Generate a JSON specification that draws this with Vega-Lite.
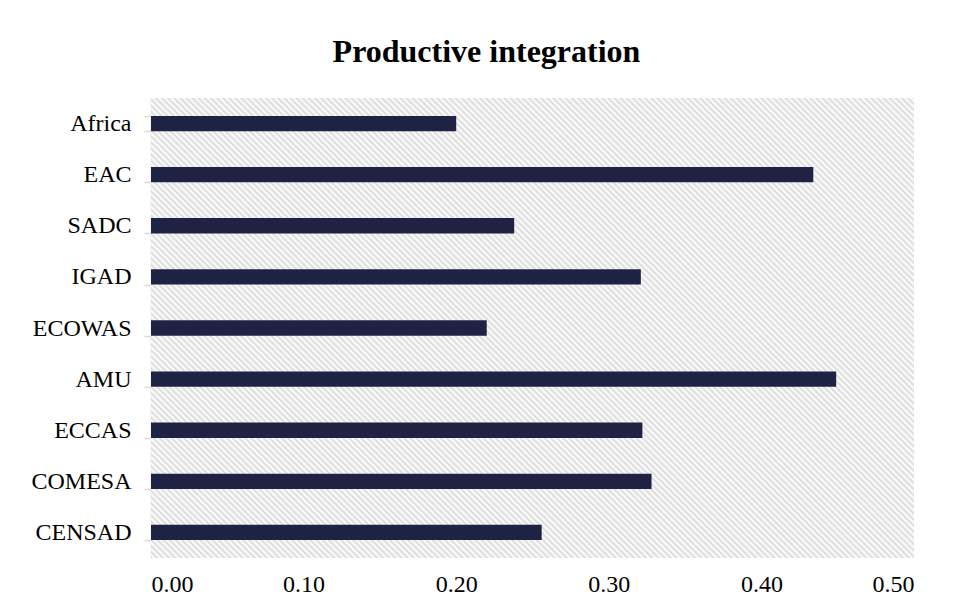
{
  "$schema": "https://vega.github.io/schema/vega-lite/v6.json",
  "width": 763,
  "height": 460,
  "autosize": "none",
  "padding": {"left": 151, "top": 98, "right": 40, "bottom": 52},
  "background": "white",
  "title": {
    "text": "Productive integration",
    "font": "Liberation Serif",
    "fontSize": 32,
    "fontWeight": "bold",
    "color": "#000000",
    "anchor": "middle",
    "frame": "group",
    "dx": -46,
    "baseline": "alphabetic",
    "offset": -8
  },
  "config": {
    "view": {"stroke": null},
    "font": "Liberation Serif"
  },
  "data": {
    "values": [
      {"region": "Africa", "value": 0.200},
      {"region": "EAC", "value": 0.434},
      {"region": "SADC", "value": 0.238},
      {"region": "IGAD", "value": 0.321},
      {"region": "ECOWAS", "value": 0.220},
      {"region": "AMU", "value": 0.449},
      {"region": "ECCAS", "value": 0.322},
      {"region": "COMESA", "value": 0.328},
      {"region": "CENSAD", "value": 0.256}
    ]
  },
  "layer": [
    {
      "data": {"values": [{"lo": 0, "hi": 0.5}]},
      "mark": {
        "type": "rect",
        "fill": {
          "gradient": "linear",
          "x1": 0, "y1": 1, "x2": 1.1756, "y2": 0.2912,
          "stops": [
            {"offset":0,"color":"#dadada"},{"offset":0.0025,"color":"#fff"},{"offset":0.005,"color":"#dadada"},{"offset":0.0075,"color":"#fff"},
            {"offset":0.01,"color":"#dadada"},{"offset":0.0125,"color":"#fff"},{"offset":0.015,"color":"#dadada"},{"offset":0.0175,"color":"#fff"},
            {"offset":0.02,"color":"#dadada"},{"offset":0.0225,"color":"#fff"},{"offset":0.025,"color":"#dadada"},{"offset":0.0275,"color":"#fff"},
            {"offset":0.03,"color":"#dadada"},{"offset":0.0325,"color":"#fff"},{"offset":0.035,"color":"#dadada"},{"offset":0.0375,"color":"#fff"},
            {"offset":0.04,"color":"#dadada"},{"offset":0.0425,"color":"#fff"},{"offset":0.045,"color":"#dadada"},{"offset":0.0475,"color":"#fff"},
            {"offset":0.05,"color":"#dadada"},{"offset":0.0525,"color":"#fff"},{"offset":0.055,"color":"#dadada"},{"offset":0.0575,"color":"#fff"},
            {"offset":0.06,"color":"#dadada"},{"offset":0.0625,"color":"#fff"},{"offset":0.065,"color":"#dadada"},{"offset":0.0675,"color":"#fff"},
            {"offset":0.07,"color":"#dadada"},{"offset":0.0725,"color":"#fff"},{"offset":0.075,"color":"#dadada"},{"offset":0.0775,"color":"#fff"},
            {"offset":0.08,"color":"#dadada"},{"offset":0.0825,"color":"#fff"},{"offset":0.085,"color":"#dadada"},{"offset":0.0875,"color":"#fff"},
            {"offset":0.09,"color":"#dadada"},{"offset":0.0925,"color":"#fff"},{"offset":0.095,"color":"#dadada"},{"offset":0.0975,"color":"#fff"},
            {"offset":0.10,"color":"#dadada"},{"offset":0.1025,"color":"#fff"},{"offset":0.105,"color":"#dadada"},{"offset":0.1075,"color":"#fff"},
            {"offset":0.11,"color":"#dadada"},{"offset":0.1125,"color":"#fff"},{"offset":0.115,"color":"#dadada"},{"offset":0.1175,"color":"#fff"},
            {"offset":0.12,"color":"#dadada"},{"offset":0.1225,"color":"#fff"},{"offset":0.125,"color":"#dadada"},{"offset":0.1275,"color":"#fff"},
            {"offset":0.13,"color":"#dadada"},{"offset":0.1325,"color":"#fff"},{"offset":0.135,"color":"#dadada"},{"offset":0.1375,"color":"#fff"},
            {"offset":0.14,"color":"#dadada"},{"offset":0.1425,"color":"#fff"},{"offset":0.145,"color":"#dadada"},{"offset":0.1475,"color":"#fff"},
            {"offset":0.15,"color":"#dadada"},{"offset":0.1525,"color":"#fff"},{"offset":0.155,"color":"#dadada"},{"offset":0.1575,"color":"#fff"},
            {"offset":0.16,"color":"#dadada"},{"offset":0.1625,"color":"#fff"},{"offset":0.165,"color":"#dadada"},{"offset":0.1675,"color":"#fff"},
            {"offset":0.17,"color":"#dadada"},{"offset":0.1725,"color":"#fff"},{"offset":0.175,"color":"#dadada"},{"offset":0.1775,"color":"#fff"},
            {"offset":0.18,"color":"#dadada"},{"offset":0.1825,"color":"#fff"},{"offset":0.185,"color":"#dadada"},{"offset":0.1875,"color":"#fff"},
            {"offset":0.19,"color":"#dadada"},{"offset":0.1925,"color":"#fff"},{"offset":0.195,"color":"#dadada"},{"offset":0.1975,"color":"#fff"},
            {"offset":0.20,"color":"#dadada"},{"offset":0.2025,"color":"#fff"},{"offset":0.205,"color":"#dadada"},{"offset":0.2075,"color":"#fff"},
            {"offset":0.21,"color":"#dadada"},{"offset":0.2125,"color":"#fff"},{"offset":0.215,"color":"#dadada"},{"offset":0.2175,"color":"#fff"},
            {"offset":0.22,"color":"#dadada"},{"offset":0.2225,"color":"#fff"},{"offset":0.225,"color":"#dadada"},{"offset":0.2275,"color":"#fff"},
            {"offset":0.23,"color":"#dadada"},{"offset":0.2325,"color":"#fff"},{"offset":0.235,"color":"#dadada"},{"offset":0.2375,"color":"#fff"},
            {"offset":0.24,"color":"#dadada"},{"offset":0.2425,"color":"#fff"},{"offset":0.245,"color":"#dadada"},{"offset":0.2475,"color":"#fff"},
            {"offset":0.25,"color":"#dadada"},{"offset":0.2525,"color":"#fff"},{"offset":0.255,"color":"#dadada"},{"offset":0.2575,"color":"#fff"},
            {"offset":0.26,"color":"#dadada"},{"offset":0.2625,"color":"#fff"},{"offset":0.265,"color":"#dadada"},{"offset":0.2675,"color":"#fff"},
            {"offset":0.27,"color":"#dadada"},{"offset":0.2725,"color":"#fff"},{"offset":0.275,"color":"#dadada"},{"offset":0.2775,"color":"#fff"},
            {"offset":0.28,"color":"#dadada"},{"offset":0.2825,"color":"#fff"},{"offset":0.285,"color":"#dadada"},{"offset":0.2875,"color":"#fff"},
            {"offset":0.29,"color":"#dadada"},{"offset":0.2925,"color":"#fff"},{"offset":0.295,"color":"#dadada"},{"offset":0.2975,"color":"#fff"},
            {"offset":0.30,"color":"#dadada"},{"offset":0.3025,"color":"#fff"},{"offset":0.305,"color":"#dadada"},{"offset":0.3075,"color":"#fff"},
            {"offset":0.31,"color":"#dadada"},{"offset":0.3125,"color":"#fff"},{"offset":0.315,"color":"#dadada"},{"offset":0.3175,"color":"#fff"},
            {"offset":0.32,"color":"#dadada"},{"offset":0.3225,"color":"#fff"},{"offset":0.325,"color":"#dadada"},{"offset":0.3275,"color":"#fff"},
            {"offset":0.33,"color":"#dadada"},{"offset":0.3325,"color":"#fff"},{"offset":0.335,"color":"#dadada"},{"offset":0.3375,"color":"#fff"},
            {"offset":0.34,"color":"#dadada"},{"offset":0.3425,"color":"#fff"},{"offset":0.345,"color":"#dadada"},{"offset":0.3475,"color":"#fff"},
            {"offset":0.35,"color":"#dadada"},{"offset":0.3525,"color":"#fff"},{"offset":0.355,"color":"#dadada"},{"offset":0.3575,"color":"#fff"},
            {"offset":0.36,"color":"#dadada"},{"offset":0.3625,"color":"#fff"},{"offset":0.365,"color":"#dadada"},{"offset":0.3675,"color":"#fff"},
            {"offset":0.37,"color":"#dadada"},{"offset":0.3725,"color":"#fff"},{"offset":0.375,"color":"#dadada"},{"offset":0.3775,"color":"#fff"},
            {"offset":0.38,"color":"#dadada"},{"offset":0.3825,"color":"#fff"},{"offset":0.385,"color":"#dadada"},{"offset":0.3875,"color":"#fff"},
            {"offset":0.39,"color":"#dadada"},{"offset":0.3925,"color":"#fff"},{"offset":0.395,"color":"#dadada"},{"offset":0.3975,"color":"#fff"},
            {"offset":0.40,"color":"#dadada"},{"offset":0.4025,"color":"#fff"},{"offset":0.405,"color":"#dadada"},{"offset":0.4075,"color":"#fff"},
            {"offset":0.41,"color":"#dadada"},{"offset":0.4125,"color":"#fff"},{"offset":0.415,"color":"#dadada"},{"offset":0.4175,"color":"#fff"},
            {"offset":0.42,"color":"#dadada"},{"offset":0.4225,"color":"#fff"},{"offset":0.425,"color":"#dadada"},{"offset":0.4275,"color":"#fff"},
            {"offset":0.43,"color":"#dadada"},{"offset":0.4325,"color":"#fff"},{"offset":0.435,"color":"#dadada"},{"offset":0.4375,"color":"#fff"},
            {"offset":0.44,"color":"#dadada"},{"offset":0.4425,"color":"#fff"},{"offset":0.445,"color":"#dadada"},{"offset":0.4475,"color":"#fff"},
            {"offset":0.45,"color":"#dadada"},{"offset":0.4525,"color":"#fff"},{"offset":0.455,"color":"#dadada"},{"offset":0.4575,"color":"#fff"},
            {"offset":0.46,"color":"#dadada"},{"offset":0.4625,"color":"#fff"},{"offset":0.465,"color":"#dadada"},{"offset":0.4675,"color":"#fff"},
            {"offset":0.47,"color":"#dadada"},{"offset":0.4725,"color":"#fff"},{"offset":0.475,"color":"#dadada"},{"offset":0.4775,"color":"#fff"},
            {"offset":0.48,"color":"#dadada"},{"offset":0.4825,"color":"#fff"},{"offset":0.485,"color":"#dadada"},{"offset":0.4875,"color":"#fff"},
            {"offset":0.49,"color":"#dadada"},{"offset":0.4925,"color":"#fff"},{"offset":0.495,"color":"#dadada"},{"offset":0.4975,"color":"#fff"},
            {"offset":0.50,"color":"#dadada"},{"offset":0.5025,"color":"#fff"},{"offset":0.505,"color":"#dadada"},{"offset":0.5075,"color":"#fff"},
            {"offset":0.51,"color":"#dadada"},{"offset":0.5125,"color":"#fff"},{"offset":0.515,"color":"#dadada"},{"offset":0.5175,"color":"#fff"},
            {"offset":0.52,"color":"#dadada"},{"offset":0.5225,"color":"#fff"},{"offset":0.525,"color":"#dadada"},{"offset":0.5275,"color":"#fff"},
            {"offset":0.53,"color":"#dadada"},{"offset":0.5325,"color":"#fff"},{"offset":0.535,"color":"#dadada"},{"offset":0.5375,"color":"#fff"},
            {"offset":0.54,"color":"#dadada"},{"offset":0.5425,"color":"#fff"},{"offset":0.545,"color":"#dadada"},{"offset":0.5475,"color":"#fff"},
            {"offset":0.55,"color":"#dadada"},{"offset":0.5525,"color":"#fff"},{"offset":0.555,"color":"#dadada"},{"offset":0.5575,"color":"#fff"},
            {"offset":0.56,"color":"#dadada"},{"offset":0.5625,"color":"#fff"},{"offset":0.565,"color":"#dadada"},{"offset":0.5675,"color":"#fff"},
            {"offset":0.57,"color":"#dadada"},{"offset":0.5725,"color":"#fff"},{"offset":0.575,"color":"#dadada"},{"offset":0.5775,"color":"#fff"},
            {"offset":0.58,"color":"#dadada"},{"offset":0.5825,"color":"#fff"},{"offset":0.585,"color":"#dadada"},{"offset":0.5875,"color":"#fff"},
            {"offset":0.59,"color":"#dadada"},{"offset":0.5925,"color":"#fff"},{"offset":0.595,"color":"#dadada"},{"offset":0.5975,"color":"#fff"},
            {"offset":0.60,"color":"#dadada"},{"offset":0.6025,"color":"#fff"},{"offset":0.605,"color":"#dadada"},{"offset":0.6075,"color":"#fff"},
            {"offset":0.61,"color":"#dadada"},{"offset":0.6125,"color":"#fff"},{"offset":0.615,"color":"#dadada"},{"offset":0.6175,"color":"#fff"},
            {"offset":0.62,"color":"#dadada"},{"offset":0.6225,"color":"#fff"},{"offset":0.625,"color":"#dadada"},{"offset":0.6275,"color":"#fff"},
            {"offset":0.63,"color":"#dadada"},{"offset":0.6325,"color":"#fff"},{"offset":0.635,"color":"#dadada"},{"offset":0.6375,"color":"#fff"},
            {"offset":0.64,"color":"#dadada"},{"offset":0.6425,"color":"#fff"},{"offset":0.645,"color":"#dadada"},{"offset":0.6475,"color":"#fff"},
            {"offset":0.65,"color":"#dadada"},{"offset":0.6525,"color":"#fff"},{"offset":0.655,"color":"#dadada"},{"offset":0.6575,"color":"#fff"},
            {"offset":0.66,"color":"#dadada"},{"offset":0.6625,"color":"#fff"},{"offset":0.665,"color":"#dadada"},{"offset":0.6675,"color":"#fff"},
            {"offset":0.67,"color":"#dadada"},{"offset":0.6725,"color":"#fff"},{"offset":0.675,"color":"#dadada"},{"offset":0.6775,"color":"#fff"},
            {"offset":0.68,"color":"#dadada"},{"offset":0.6825,"color":"#fff"},{"offset":0.685,"color":"#dadada"},{"offset":0.6875,"color":"#fff"},
            {"offset":0.69,"color":"#dadada"},{"offset":0.6925,"color":"#fff"},{"offset":0.695,"color":"#dadada"},{"offset":0.6975,"color":"#fff"},
            {"offset":0.70,"color":"#dadada"},{"offset":0.7025,"color":"#fff"},{"offset":0.705,"color":"#dadada"},{"offset":0.7075,"color":"#fff"},
            {"offset":0.71,"color":"#dadada"},{"offset":0.7125,"color":"#fff"},{"offset":0.715,"color":"#dadada"},{"offset":0.7175,"color":"#fff"},
            {"offset":0.72,"color":"#dadada"},{"offset":0.7225,"color":"#fff"},{"offset":0.725,"color":"#dadada"},{"offset":0.7275,"color":"#fff"},
            {"offset":0.73,"color":"#dadada"},{"offset":0.7325,"color":"#fff"},{"offset":0.735,"color":"#dadada"},{"offset":0.7375,"color":"#fff"},
            {"offset":0.74,"color":"#dadada"},{"offset":0.7425,"color":"#fff"},{"offset":0.745,"color":"#dadada"},{"offset":0.7475,"color":"#fff"},
            {"offset":0.75,"color":"#dadada"},{"offset":0.7525,"color":"#fff"},{"offset":0.755,"color":"#dadada"},{"offset":0.7575,"color":"#fff"},
            {"offset":0.76,"color":"#dadada"},{"offset":0.7625,"color":"#fff"},{"offset":0.765,"color":"#dadada"},{"offset":0.7675,"color":"#fff"},
            {"offset":0.77,"color":"#dadada"},{"offset":0.7725,"color":"#fff"},{"offset":0.775,"color":"#dadada"},{"offset":0.7775,"color":"#fff"},
            {"offset":0.78,"color":"#dadada"},{"offset":0.7825,"color":"#fff"},{"offset":0.785,"color":"#dadada"},{"offset":0.7875,"color":"#fff"},
            {"offset":0.79,"color":"#dadada"},{"offset":0.7925,"color":"#fff"},{"offset":0.795,"color":"#dadada"},{"offset":0.7975,"color":"#fff"},
            {"offset":0.80,"color":"#dadada"},{"offset":0.8025,"color":"#fff"},{"offset":0.805,"color":"#dadada"},{"offset":0.8075,"color":"#fff"},
            {"offset":0.81,"color":"#dadada"},{"offset":0.8125,"color":"#fff"},{"offset":0.815,"color":"#dadada"},{"offset":0.8175,"color":"#fff"},
            {"offset":0.82,"color":"#dadada"},{"offset":0.8225,"color":"#fff"},{"offset":0.825,"color":"#dadada"},{"offset":0.8275,"color":"#fff"},
            {"offset":0.83,"color":"#dadada"},{"offset":0.8325,"color":"#fff"},{"offset":0.835,"color":"#dadada"},{"offset":0.8375,"color":"#fff"},
            {"offset":0.84,"color":"#dadada"},{"offset":0.8425,"color":"#fff"},{"offset":0.845,"color":"#dadada"},{"offset":0.8475,"color":"#fff"},
            {"offset":0.85,"color":"#dadada"},{"offset":0.8525,"color":"#fff"},{"offset":0.855,"color":"#dadada"},{"offset":0.8575,"color":"#fff"},
            {"offset":0.86,"color":"#dadada"},{"offset":0.8625,"color":"#fff"},{"offset":0.865,"color":"#dadada"},{"offset":0.8675,"color":"#fff"},
            {"offset":0.87,"color":"#dadada"},{"offset":0.8725,"color":"#fff"},{"offset":0.875,"color":"#dadada"},{"offset":0.8775,"color":"#fff"},
            {"offset":0.88,"color":"#dadada"},{"offset":0.8825,"color":"#fff"},{"offset":0.885,"color":"#dadada"},{"offset":0.8875,"color":"#fff"},
            {"offset":0.89,"color":"#dadada"},{"offset":0.8925,"color":"#fff"},{"offset":0.895,"color":"#dadada"},{"offset":0.8975,"color":"#fff"},
            {"offset":0.90,"color":"#dadada"},{"offset":0.9025,"color":"#fff"},{"offset":0.905,"color":"#dadada"},{"offset":0.9075,"color":"#fff"},
            {"offset":0.91,"color":"#dadada"},{"offset":0.9125,"color":"#fff"},{"offset":0.915,"color":"#dadada"},{"offset":0.9175,"color":"#fff"},
            {"offset":0.92,"color":"#dadada"},{"offset":0.9225,"color":"#fff"},{"offset":0.925,"color":"#dadada"},{"offset":0.9275,"color":"#fff"},
            {"offset":0.93,"color":"#dadada"},{"offset":0.9325,"color":"#fff"},{"offset":0.935,"color":"#dadada"},{"offset":0.9375,"color":"#fff"},
            {"offset":0.94,"color":"#dadada"},{"offset":0.9425,"color":"#fff"},{"offset":0.945,"color":"#dadada"},{"offset":0.9475,"color":"#fff"},
            {"offset":0.95,"color":"#dadada"},{"offset":0.9525,"color":"#fff"},{"offset":0.955,"color":"#dadada"},{"offset":0.9575,"color":"#fff"},
            {"offset":0.96,"color":"#dadada"},{"offset":0.9625,"color":"#fff"},{"offset":0.965,"color":"#dadada"},{"offset":0.9675,"color":"#fff"},
            {"offset":0.97,"color":"#dadada"},{"offset":0.9725,"color":"#fff"},{"offset":0.975,"color":"#dadada"},{"offset":0.9775,"color":"#fff"},
            {"offset":0.98,"color":"#dadada"},{"offset":0.9825,"color":"#fff"},{"offset":0.985,"color":"#dadada"},{"offset":0.9875,"color":"#fff"},
            {"offset":0.99,"color":"#dadada"},{"offset":0.9925,"color":"#fff"},{"offset":0.995,"color":"#dadada"},{"offset":0.9975,"color":"#fff"},
            {"offset":1,"color":"#dadada"}
          ]
        }
      },
      "encoding": {
        "x": {"field": "lo", "type": "quantitative"},
        "x2": {"field": "hi"}
      }
    },
    {
      "mark": {"type": "bar", "color": "#1f2343"},
      "encoding": {
        "y": {
          "field": "region",
          "type": "nominal",
          "sort": null,
          "scale": {"paddingInner": 0.7, "paddingOuter": 0.35},
          "axis": {
            "title": null,
            "domainColor": "#d9d9d9",
            "domainWidth": 1.5,
            "tickColor": "#d9d9d9",
            "tickWidth": 1.5,
            "tickSize": 7,
            "tickBand": "extent",
            "labelFont": "Liberation Serif",
            "labelFontSize": 24,
            "labelColor": "#000000",
            "labelPadding": 13
          }
        },
        "x": {
          "field": "value",
          "type": "quantitative",
          "scale": {"domain": [0, 0.5], "nice": false},
          "axis": {
            "title": null,
            "values": [0, 0.1, 0.2, 0.3, 0.4, 0.5],
            "format": ".2f",
            "domain": false,
            "ticks": false,
            "grid": false,
            "labelFont": "Liberation Serif",
            "labelFontSize": 24,
            "labelColor": "#000000",
            "labelPadding": 14
          }
        }
      }
    }
  ]
}
